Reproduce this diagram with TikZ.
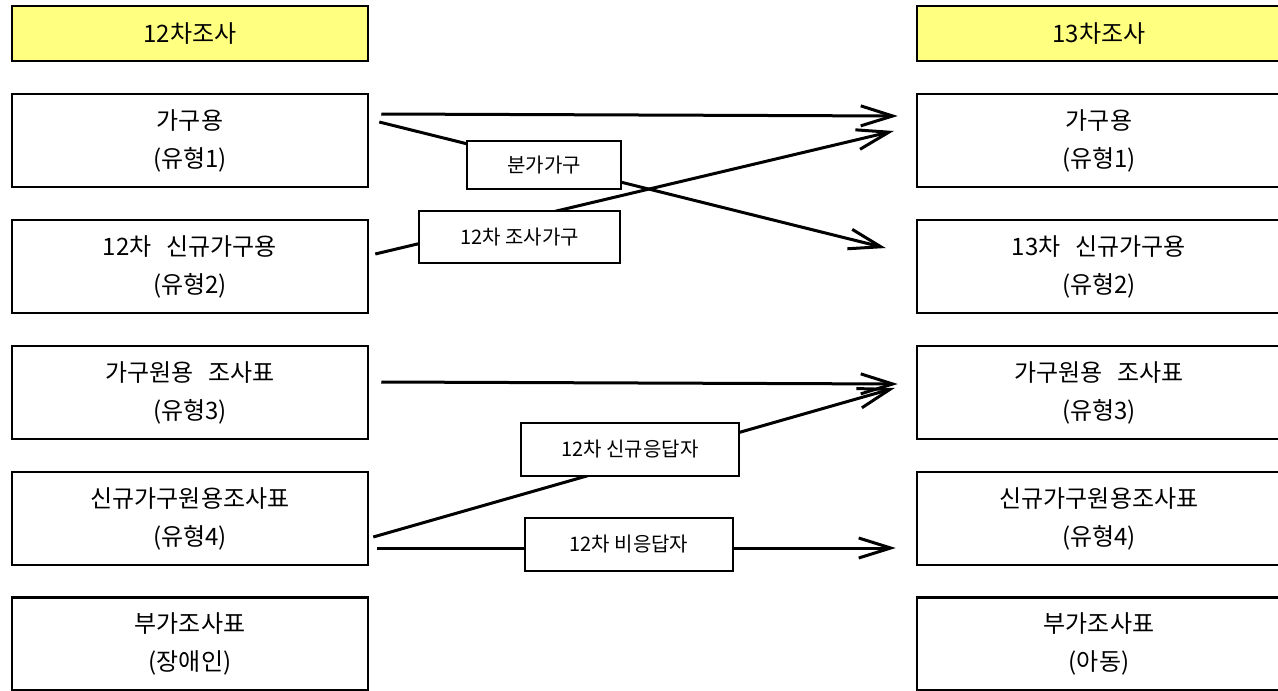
\documentclass[tikz,border=0pt]{standalone}
\usepackage{fontspec}
\newfontfamily\kr{Noto Sans CJK KR}
\usetikzlibrary{arrows.meta}
\definecolor{hdr}{RGB}{255,255,128}
\tikzset{
  box/.style={draw=black, line width=2.5pt, inner sep=0pt, minimum width=356pt, minimum height=93pt,
    align=center, font=\kr\fontsize{24}{38}\selectfont},
  rbox/.style={box, minimum width=364pt},
  hbox/.style={box, fill=hdr, minimum height=55pt},
  rhbox/.style={hbox, minimum width=364pt},
  lab/.style={draw=black, fill=white, line width=2.5pt, inner sep=0pt, font=\kr\fontsize{20}{22}\selectfont},
  arr/.style={line width=3pt, -{Straight Barb[length=32pt,width=20pt,line width=3pt]}},
}
\begin{document}
\begin{tikzpicture}[x=1pt,y=-1pt]
\useasboundingbox (0,0) rectangle (1278,691);
\clip (0,0) rectangle (1278,691);
% left column
\node[hbox] (lh) at (190,33.5) {12차조사};
\node[box] (l1) at (190,140.5) {가구용\\(유형1)};
\node[box] (l2) at (190,266.5) {12차\hspace{0.4em} 신규가구용\\(유형2)};
\node[box] (l3) at (190,392.5) {가구원용\hspace{0.4em} 조사표\\(유형3)};
\node[box] (l4) at (190,518.5) {신규가구원용조사표\\(유형4)};
\node[box] (l5) at (190,644) {부가조사표\\(장애인)};
% right column
\node[rhbox] (rh) at (1099,33.5) {13차조사};
\node[rbox] (r1) at (1099,140.5) {가구용\\(유형1)};
\node[rbox] (r2) at (1099,266.5) {13차\hspace{0.4em} 신규가구용\\(유형2)};
\node[rbox] (r3) at (1099,392.5) {가구원용\hspace{0.4em} 조사표\\(유형3)};
\node[rbox] (r4) at (1099,518.5) {신규가구원용조사표\\(유형4)};
\node[rbox] (r5) at (1099,644) {부가조사표\\(아동)};
% connector ends
\coordinate (s1) at ([xshift=12pt,yshift=26.5pt]l1.east);
\coordinate (e1) at ([xshift=-18pt,yshift=24.5pt]r1.west);
\coordinate (s2) at ([xshift=10pt,yshift=18.5pt]l1.east);
\coordinate (e2) at ([xshift=-30pt,yshift=18.5pt]r2.west);
\coordinate (s3) at ([xshift=6pt,yshift=12.5pt]l2.east);
\coordinate (e3) at ([xshift=-22pt,yshift=9.5pt]r1.west);
\coordinate (s4) at ([xshift=12pt,yshift=10.5pt]l3.east);
\coordinate (e4) at ([xshift=-18pt,yshift=8.5pt]r3.west);
\coordinate (s5) at ([xshift=4pt,yshift=-18.5pt]l4.east);
\coordinate (e5) at ([xshift=-21pt,yshift=4.5pt]r3.west);
\coordinate (s6) at ([xshift=8pt,yshift=-29.5pt]l4.east);
\coordinate (e6) at ([xshift=-20pt,yshift=-29.5pt]r4.west);
% arrows
\draw[arr] (s1) -- (e1);
\draw[arr] (s2) -- (e2);
\draw[arr] (s3) -- (e3);
\draw[arr] (s4) -- (e4);
\draw[arr] (s5) -- (e5);
\draw[arr] (s6) -- (e6);
% labels on connectors
\node[lab, minimum width=154pt, minimum height=48pt] (k1) at (544,165) {분가가구};
\node[lab, minimum width=201pt, minimum height=52pt] (k2) at (519.5,237) {12차 조사가구};
\node[lab, minimum width=218pt, minimum height=53pt] (k3) at (630,449.5) {12차 신규응답자};
\node[lab, minimum width=208pt, minimum height=53pt] (k4) at (629,544.5) {12차 비응답자};
\end{tikzpicture}
\end{document}
